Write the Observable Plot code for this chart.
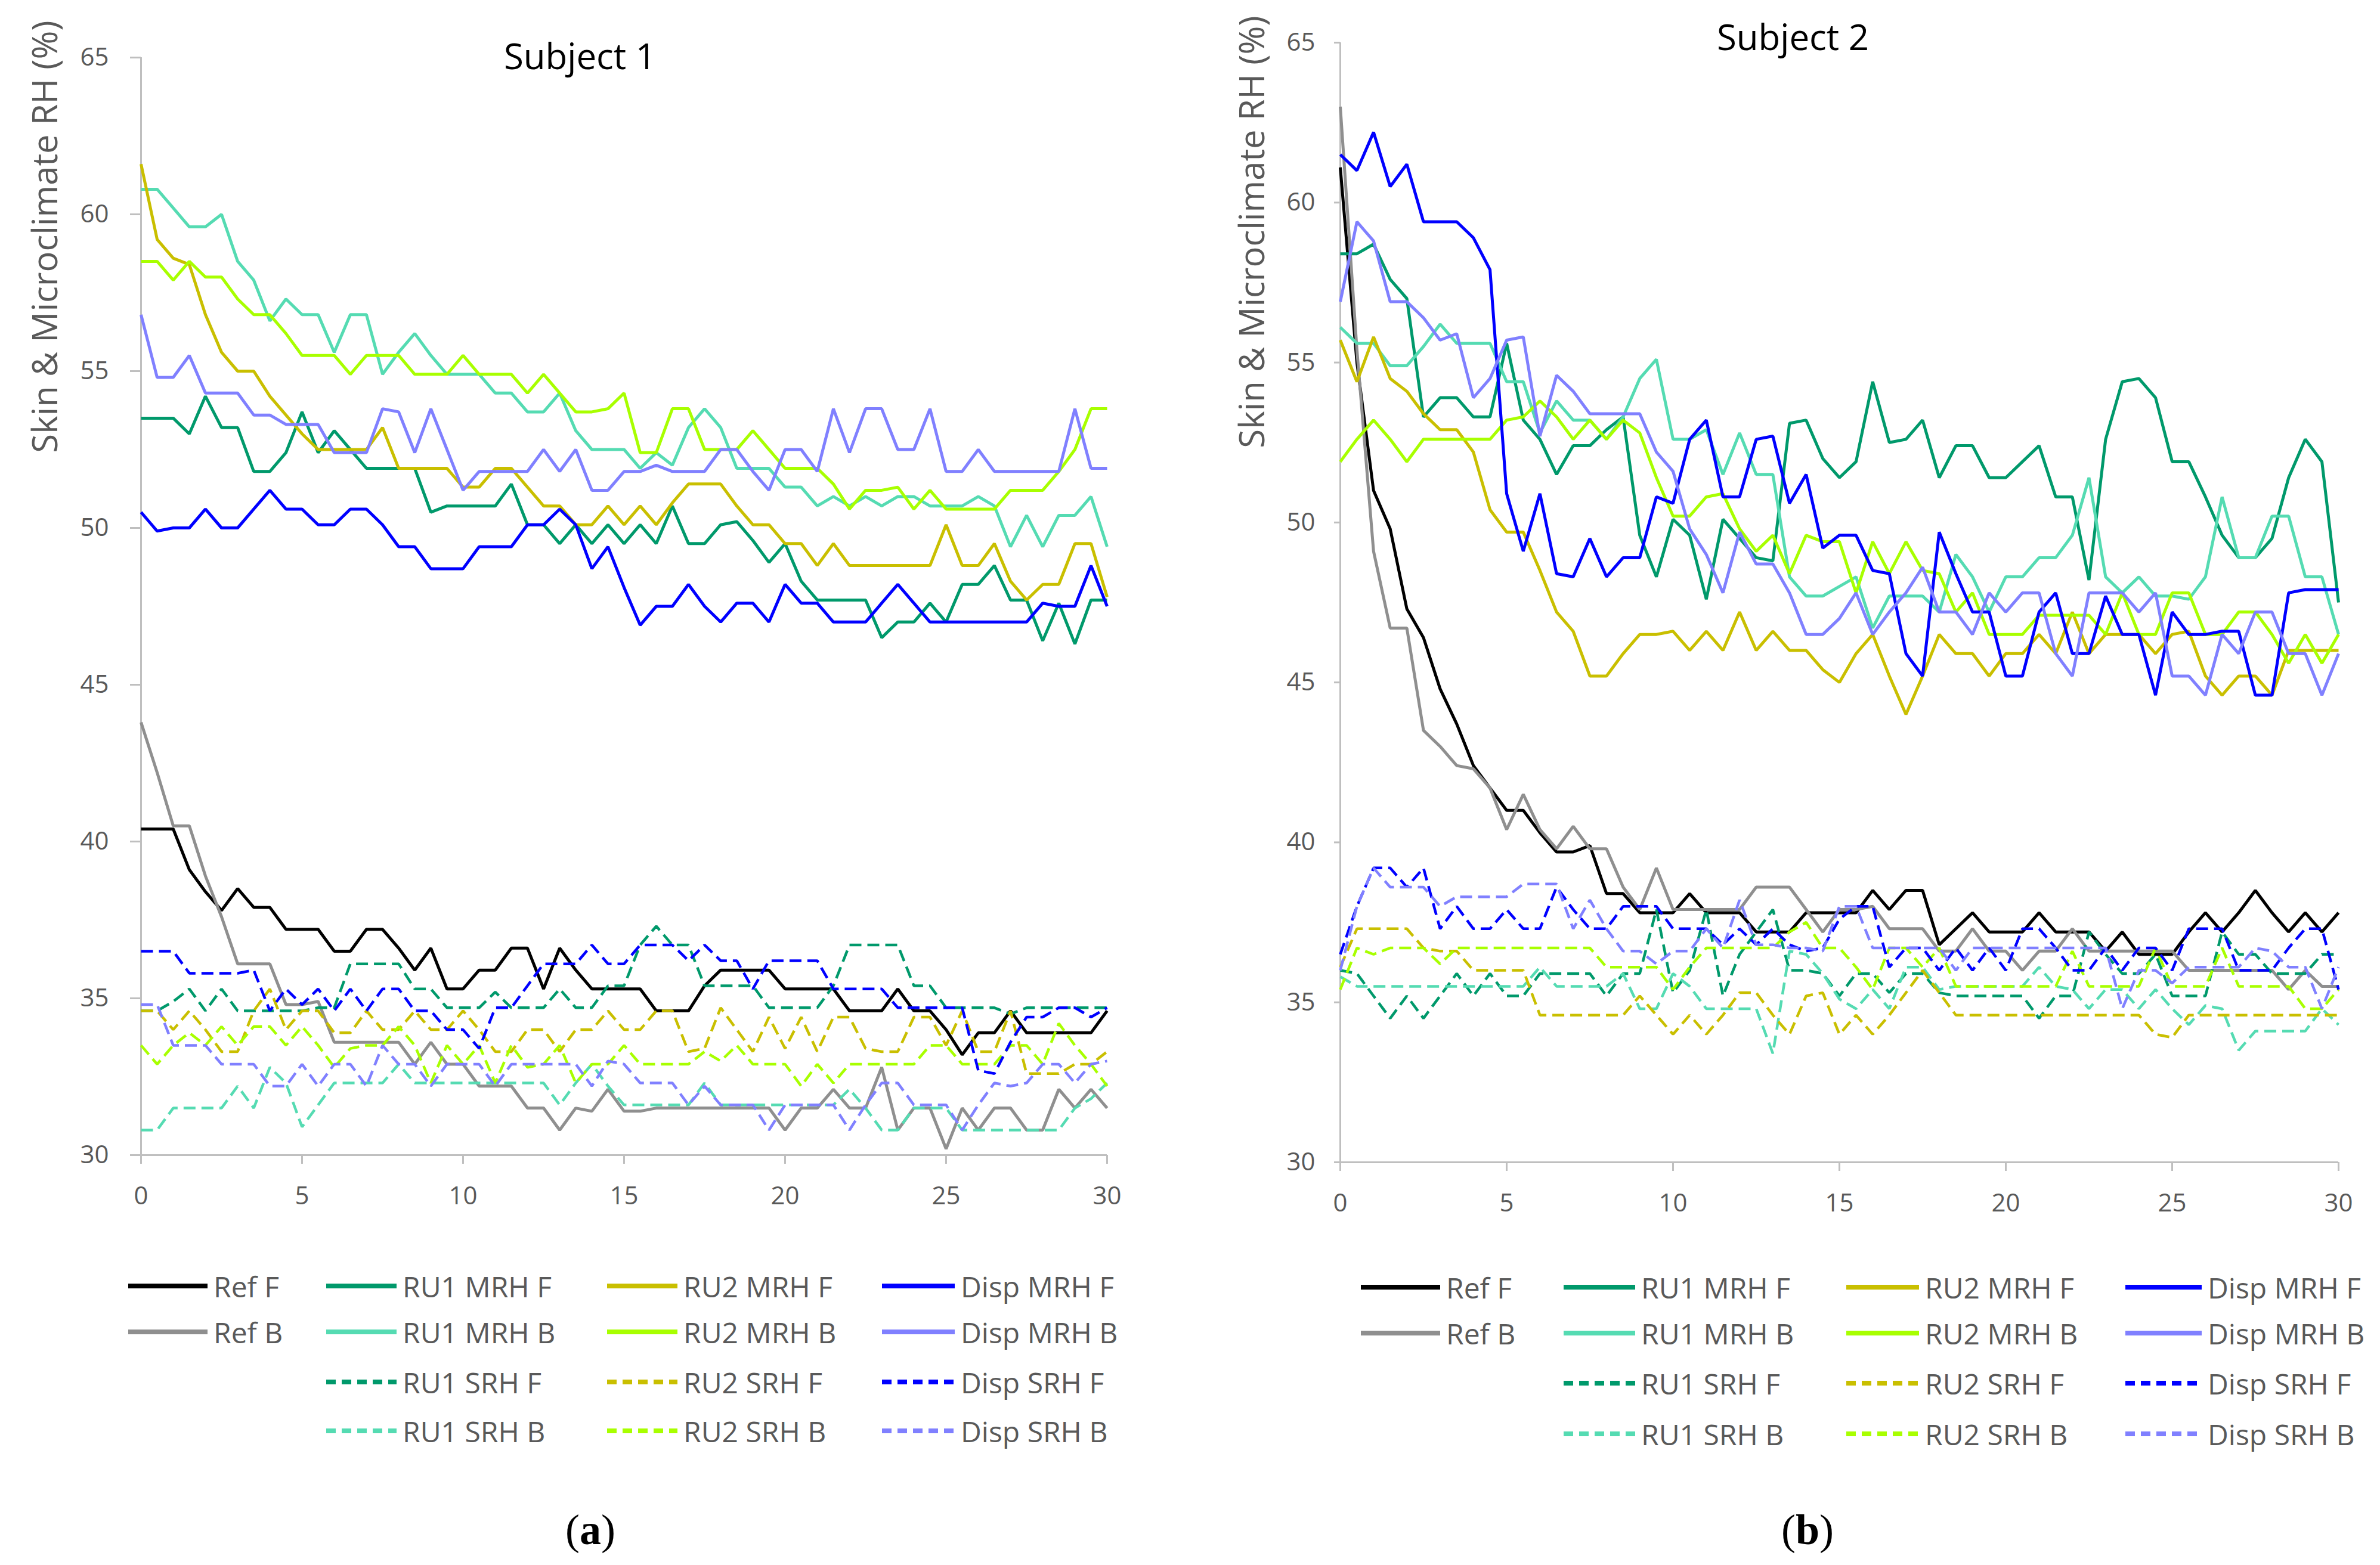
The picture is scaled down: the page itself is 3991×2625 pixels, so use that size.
<!DOCTYPE html>
<html><head><meta charset="utf-8">
<script src="https://cdn.jsdelivr.net/npm/d3@7"></script>
<script src="https://cdn.jsdelivr.net/npm/@observablehq/plot@0.6"></script>
<style>
html,body{margin:0;padding:0;background:#fff;}
#page{position:relative;width:3991px;height:2625px;overflow:hidden;background:#fff;}
.panel{position:absolute;top:0;}
.item{position:absolute;display:flex;align-items:center;white-space:nowrap;height:60px;
  font-family:"Open Sans",sans-serif;font-size:48px;color:#595959;}
.item svg{display:block;margin-right:10px;}
.cap{position:absolute;font-family:"Liberation Serif","DejaVu Serif",serif;font-size:72px;color:#000;transform:translate(-50%,-50%);}
</style></head><body><div id="page"></div><script>
// ---------- data ----------
const time = [0,0.5,1,1.5,2,2.5,3,3.5,4,4.5,5,5.5,6,6.5,7,7.5,8,8.5,9,9.5,10,10.5,11,11.5,12,12.5,13,13.5,14,14.5,15,15.5,16,16.5,17,17.5,18,18.5,19,19.5,20,20.5,21,21.5,22,22.5,23,23.5,24,24.5,25,25.5,26,26.5,27,27.5,28,28.5,29,29.5,30];
const xTicks = [0,5,10,15,20,25,30];
const yTicks = [30,35,40,45,50,55,60,65];
const seriesNames = ["Ref F","Ref B","RU1 MRH F","RU1 MRH B","RU1 SRH F","RU1 SRH B","RU2 MRH F","RU2 MRH B","RU2 SRH F","RU2 SRH B","Disp MRH F","Disp MRH B","Disp SRH F","Disp SRH B"];
const seriesColors = ["#000000","#8f8f8f","#00996b","#55dbb2","#00996b","#55dbb2","#c9bf00","#a8ff00","#c9bf00","#a8ff00","#0000ff","#8080ff","#0000ff","#8080ff"];
const seriesDashed = [false,false,false,false,true,true,false,false,true,true,false,false,true,true];
const panelTitles = ["Subject 1","Subject 2"];
const panelCaptions = ["a","b"];
const yLabel = "Skin & Microclimate RH (%)";

// Subject 1
const s1RefF = [40.4,40.4,40.4,39.1,38.4,37.8,38.5,37.9,37.9,37.2,37.2,37.2,36.5,36.5,37.2,37.2,36.6,35.9,36.6,35.3,35.3,35.9,35.9,36.6,36.6,35.3,36.6,35.9,35.3,35.3,35.3,35.3,34.6,34.6,34.6,35.4,35.9,35.9,35.9,35.9,35.3,35.3,35.3,35.3,34.6,34.6,34.6,35.3,34.6,34.6,34.0,33.2,33.9,33.9,34.6,33.9,33.9,33.9,33.9,33.9,34.6];
const s1RefB = [43.8,42.2,40.5,40.5,38.9,37.6,36.1,36.1,36.1,34.8,34.8,34.9,33.6,33.6,33.6,33.6,33.6,32.9,33.6,32.9,32.9,32.2,32.2,32.2,31.5,31.5,30.8,31.5,31.4,32.1,31.4,31.4,31.5,31.5,31.5,31.5,31.5,31.5,31.5,31.5,30.8,31.5,31.5,32.1,31.5,31.5,32.8,30.8,31.5,31.5,30.2,31.5,30.8,31.5,31.5,30.8,30.8,32.1,31.5,32.1,31.5];
const s1Ru1MrhF = [53.5,53.5,53.5,53.0,54.2,53.2,53.2,51.8,51.8,52.4,53.7,52.4,53.1,52.5,51.9,51.9,51.9,51.9,50.5,50.7,50.7,50.7,50.7,51.4,50.1,50.1,49.5,50.1,49.5,50.1,49.5,50.1,49.5,50.7,49.5,49.5,50.1,50.2,49.6,48.9,49.5,48.3,47.7,47.7,47.7,47.7,46.5,47.0,47.0,47.6,47.0,48.2,48.2,48.8,47.7,47.7,46.4,47.6,46.3,47.7,47.7];
const s1Ru1MrhB = [60.8,60.8,60.2,59.6,59.6,60.0,58.5,57.9,56.6,57.3,56.8,56.8,55.6,56.8,56.8,54.9,55.6,56.2,55.5,54.9,54.9,54.9,54.3,54.3,53.7,53.7,54.3,53.1,52.5,52.5,52.5,51.9,52.4,52.0,53.2,53.8,53.2,51.9,51.9,51.9,51.3,51.3,50.7,51.0,50.7,51.0,50.7,51.0,51.0,50.7,50.7,50.7,51.0,50.7,49.4,50.4,49.4,50.4,50.4,51.0,49.4];
const s1Ru1SrhF = [34.6,34.6,34.9,35.3,34.6,35.3,34.6,34.6,34.6,34.6,34.6,34.7,34.7,36.1,36.1,36.1,36.1,35.3,35.3,34.7,34.7,34.7,35.2,34.7,34.7,34.7,35.3,34.7,34.7,35.4,35.4,36.7,37.3,36.7,36.7,35.4,35.4,35.4,35.4,34.7,34.7,34.7,34.7,35.4,36.7,36.7,36.7,36.7,35.4,35.4,34.7,34.7,34.7,34.7,34.5,34.7,34.7,34.7,34.7,34.7,34.7];
const s1Ru1SrhB = [30.8,30.8,31.5,31.5,31.5,31.5,32.2,31.5,32.8,32.3,30.9,31.6,32.3,32.3,32.3,32.3,32.9,32.3,32.3,32.3,32.3,32.3,32.3,32.3,32.3,32.3,31.6,32.3,32.9,32.2,31.6,31.6,31.6,31.6,31.6,32.3,31.6,31.6,31.6,31.6,31.6,31.6,31.6,31.6,32.1,31.5,30.8,30.8,31.5,31.5,31.5,30.8,30.8,30.8,30.8,30.8,30.8,30.8,31.5,31.8,32.3];
const s1Ru2MrhF = [61.6,59.2,58.6,58.4,56.8,55.6,55.0,55.0,54.2,53.6,53.0,52.5,52.5,52.5,52.5,53.2,51.9,51.9,51.9,51.9,51.3,51.3,51.9,51.9,51.3,50.7,50.7,50.1,50.1,50.7,50.1,50.7,50.1,50.8,51.4,51.4,51.4,50.7,50.1,50.1,49.5,49.5,48.8,49.5,48.8,48.8,48.8,48.8,48.8,48.8,50.1,48.8,48.8,49.5,48.3,47.7,48.2,48.2,49.5,49.5,47.8];
const s1Ru2MrhB = [58.5,58.5,57.9,58.5,58.0,58.0,57.3,56.8,56.8,56.2,55.5,55.5,55.5,54.9,55.5,55.5,55.5,54.9,54.9,54.9,55.5,54.9,54.9,54.9,54.3,54.9,54.3,53.7,53.7,53.8,54.3,52.4,52.4,53.8,53.8,52.5,52.5,52.5,53.1,52.5,51.9,51.9,51.9,51.4,50.6,51.2,51.2,51.3,50.6,51.2,50.6,50.6,50.6,50.6,51.2,51.2,51.2,51.8,52.5,53.8,53.8];
const s1Ru2SrhF = [34.6,34.6,34.0,34.6,34.0,33.3,33.3,34.6,35.3,34.0,34.6,34.6,33.9,33.9,34.6,34.0,34.0,34.6,34.0,34.0,34.6,34.0,33.3,33.3,34.0,34.0,33.3,34.0,34.0,34.6,34.0,34.0,34.6,34.6,33.3,33.4,34.7,34.0,33.3,34.4,33.4,34.4,33.3,34.4,34.4,33.4,33.3,33.3,34.4,34.4,33.5,34.6,33.3,33.3,34.6,32.6,32.6,32.6,32.9,32.9,33.3];
const s1Ru2SrhB = [33.5,32.9,33.5,33.9,33.5,34.1,33.5,34.1,34.1,33.5,34.1,33.5,32.8,33.4,33.5,33.5,34.1,33.5,32.3,33.5,32.9,33.5,32.3,33.5,32.8,32.9,33.5,32.3,32.9,32.9,33.5,32.9,32.9,32.9,32.9,33.3,33.0,33.5,32.9,32.9,32.9,32.2,32.9,32.3,32.9,32.9,32.9,32.9,32.9,33.5,33.5,32.9,32.9,32.9,33.5,33.5,32.9,34.2,33.5,32.9,32.2];
const s1DispMrhF = [50.5,49.9,50.0,50.0,50.6,50.0,50.0,50.6,51.2,50.6,50.6,50.1,50.1,50.6,50.6,50.1,49.4,49.4,48.7,48.7,48.7,49.4,49.4,49.4,50.1,50.1,50.6,50.1,48.7,49.4,48.1,46.9,47.5,47.5,48.2,47.5,47.0,47.6,47.6,47.0,48.2,47.6,47.6,47.0,47.0,47.0,47.6,48.2,47.6,47.0,47.0,47.0,47.0,47.0,47.0,47.0,47.6,47.5,47.5,48.8,47.5];
const s1DispMrhB = [56.8,54.8,54.8,55.5,54.3,54.3,54.3,53.6,53.6,53.3,53.3,53.3,52.4,52.4,52.4,53.8,53.7,52.4,53.8,52.5,51.2,51.8,51.8,51.8,51.8,52.5,51.8,52.5,51.2,51.2,51.8,51.8,52.0,51.8,51.8,51.8,52.5,52.5,51.8,51.2,52.5,52.5,51.8,53.8,52.4,53.8,53.8,52.5,52.5,53.8,51.8,51.8,52.5,51.8,51.8,51.8,51.8,51.8,53.8,51.9,51.9];
const s1DispSrhF = [36.5,36.5,36.5,35.8,35.8,35.8,35.8,35.9,34.6,35.3,34.8,35.3,34.6,35.3,34.6,35.3,35.3,34.6,34.6,34.0,34.0,33.4,34.7,34.7,35.4,36.1,36.1,36.1,36.7,36.1,36.1,36.7,36.7,36.7,36.2,36.7,36.2,36.2,35.3,36.2,36.2,36.2,36.2,35.3,35.3,35.3,35.3,34.7,34.7,34.7,34.7,34.7,32.7,32.6,33.6,34.4,34.4,34.7,34.7,34.4,34.7];
const s1DispSrhB = [34.8,34.8,33.5,33.5,33.5,32.9,32.9,32.9,32.2,32.2,32.9,32.2,32.9,32.9,32.2,33.5,32.9,32.9,32.2,32.9,32.9,32.9,32.2,32.9,32.9,32.9,32.9,32.9,32.2,33.0,32.9,32.3,32.3,32.3,31.6,32.2,31.6,31.6,31.6,30.8,31.6,31.6,31.6,31.6,30.8,31.6,32.3,32.3,31.6,31.6,31.6,30.8,31.6,32.3,32.2,32.3,32.9,32.9,32.3,32.9,33.0];

// Subject 2
const s2RefF = [61.1,55.0,51.0,49.8,47.3,46.4,44.8,43.7,42.4,41.7,41.0,41.0,40.3,39.7,39.7,39.9,38.4,38.4,37.8,37.8,37.8,38.4,37.8,37.8,37.8,37.2,37.2,37.2,37.8,37.8,37.8,37.8,38.5,37.9,38.5,38.5,36.8,37.3,37.8,37.2,37.2,37.2,37.8,37.2,37.2,37.2,36.6,37.2,36.5,36.5,36.5,37.2,37.8,37.2,37.8,38.5,37.8,37.2,37.8,37.2,37.8];
const s2RefB = [63.0,55.4,49.1,46.7,46.7,43.5,43.0,42.4,42.3,41.7,40.4,41.5,40.4,39.8,40.5,39.8,39.8,38.6,37.9,39.2,37.9,37.9,37.9,37.9,37.9,38.6,38.6,38.6,37.9,37.2,37.9,37.9,38.0,37.3,37.3,37.3,36.6,36.6,37.3,36.6,36.6,36.0,36.6,36.6,37.3,36.6,36.6,36.6,36.6,36.6,36.6,36.0,36.0,36.0,36.0,36.0,36.0,35.4,36.0,35.5,35.5];
const s2Ru1MrhF = [58.4,58.4,58.7,57.6,57.0,53.3,53.9,53.9,53.3,53.3,55.6,53.2,52.6,51.5,52.4,52.4,52.9,53.3,49.6,48.3,50.1,49.6,47.6,50.1,49.5,48.9,48.8,53.1,53.2,52.0,51.4,51.9,54.4,52.5,52.6,53.2,51.4,52.4,52.4,51.4,51.4,51.9,52.4,50.8,50.8,48.2,52.6,54.4,54.5,53.9,51.9,51.9,50.8,49.6,48.9,48.9,49.5,51.4,52.6,51.9,47.5];
const s2Ru1MrhB = [56.1,55.6,55.6,54.9,54.9,55.5,56.2,55.6,55.6,55.6,54.4,54.4,52.8,53.8,53.2,53.2,52.6,53.3,54.5,55.1,52.6,52.6,52.9,51.5,52.8,51.5,51.5,48.3,47.7,47.7,48.0,48.3,46.7,47.7,47.7,47.7,47.2,49.0,48.3,47.2,48.3,48.3,48.9,48.9,49.6,51.4,48.3,47.8,48.3,47.7,47.7,47.6,48.3,50.8,48.9,48.9,50.2,50.2,48.3,48.3,46.5];
const s2Ru1SrhF = [36.0,35.9,35.2,34.5,35.2,34.5,35.2,35.9,35.2,35.9,35.2,35.2,35.9,35.9,35.9,35.9,35.2,35.9,35.9,37.9,35.3,36.0,37.9,35.2,36.5,37.2,37.9,36.0,36.0,35.9,35.2,35.9,35.9,35.3,35.9,35.9,35.3,35.2,35.2,35.2,35.2,35.2,34.5,35.2,35.2,37.2,36.5,35.9,35.9,36.5,35.2,35.2,35.2,37.2,36.5,36.5,35.9,35.9,35.9,36.5,36.5];
const s2Ru1SrhB = [35.8,35.5,35.5,35.5,35.5,35.5,35.5,35.5,35.5,35.5,35.5,35.5,36.1,35.5,35.5,35.5,35.5,35.9,34.8,34.8,35.9,35.5,34.8,34.8,34.8,34.8,33.4,36.6,36.5,35.9,35.1,34.8,35.4,34.8,36.1,36.1,35.4,35.5,35.5,35.5,35.5,35.5,36.1,35.5,35.4,34.8,35.4,35.4,34.8,35.4,34.8,34.3,34.9,34.8,33.5,34.1,34.1,34.1,34.1,34.8,34.3];
const s2Ru2MrhF = [55.7,54.4,55.8,54.5,54.1,53.4,52.9,52.9,52.2,50.4,49.7,49.7,48.5,47.2,46.6,45.2,45.2,45.9,46.5,46.5,46.6,46.0,46.6,46.0,47.2,46.0,46.6,46.0,46.0,45.4,45.0,45.9,46.5,45.2,44.0,45.2,46.5,45.9,45.9,45.2,45.9,45.9,46.5,45.9,47.2,45.9,46.5,46.5,46.5,45.9,46.5,46.6,45.2,44.6,45.2,45.2,44.6,46.0,46.0,46.0,46.0];
const s2Ru2MrhB = [51.9,52.6,53.2,52.6,51.9,52.6,52.6,52.6,52.6,52.6,53.2,53.3,53.8,53.3,52.6,53.2,52.6,53.2,52.8,51.4,50.2,50.2,50.8,50.9,49.8,49.1,49.6,48.4,49.6,49.4,49.4,47.8,49.4,48.4,49.4,48.5,48.4,47.2,47.8,46.5,46.5,46.5,47.1,47.1,47.1,47.1,46.5,47.8,46.5,46.5,47.8,47.8,46.5,46.5,47.2,47.2,46.5,45.6,46.5,45.6,46.5];
const s2Ru2SrhF = [36.1,37.3,37.3,37.3,37.3,36.7,36.6,36.6,36.0,36.0,36.0,36.0,34.6,34.6,34.6,34.6,34.6,34.6,35.2,34.6,34.0,34.6,34.0,34.6,35.3,35.3,34.6,34.0,35.2,35.3,34.0,34.6,34.0,34.6,35.3,36.0,35.3,34.6,34.6,34.6,34.6,34.6,34.6,34.6,34.6,34.6,34.6,34.6,34.6,34.0,33.9,34.6,34.6,34.6,34.6,34.6,34.6,34.6,34.6,34.6,34.6];
const s2Ru2SrhB = [35.4,36.7,36.5,36.7,36.7,36.7,36.2,36.7,36.7,36.7,36.7,36.7,36.7,36.7,36.7,36.7,36.1,36.1,36.1,36.1,35.4,36.1,36.7,36.7,36.7,36.7,36.7,37.2,37.5,36.7,36.7,36.1,35.4,36.7,36.7,36.1,36.7,35.5,35.5,35.5,35.5,35.5,35.5,35.5,36.6,35.5,35.5,35.5,35.5,36.7,35.5,35.5,35.5,36.7,35.5,35.5,35.5,35.5,34.8,34.8,35.4];
const s2DispMrhF = [61.5,61.0,62.2,60.5,61.2,59.4,59.4,59.4,58.9,57.9,50.9,49.1,50.9,48.4,48.3,49.5,48.3,48.9,48.9,50.8,50.6,52.6,53.2,50.8,50.8,52.6,52.7,50.6,51.5,49.2,49.6,49.6,48.5,48.4,45.9,45.2,49.7,48.4,47.2,47.2,45.2,45.2,47.2,47.8,45.9,45.9,47.7,46.5,46.5,44.6,47.2,46.5,46.5,46.6,46.6,44.6,44.6,47.8,47.9,47.9,47.9];
const s2DispMrhB = [56.9,59.4,58.8,56.9,56.9,56.4,55.7,55.9,53.9,54.5,55.7,55.8,52.7,54.6,54.1,53.4,53.4,53.4,53.4,52.2,51.6,49.8,49.0,47.8,49.7,48.7,48.7,47.8,46.5,46.5,47.0,47.8,46.5,47.2,47.8,48.6,47.2,47.2,46.5,47.8,47.2,47.8,47.8,45.9,45.2,47.8,47.8,47.8,47.2,47.8,45.2,45.2,44.6,46.5,45.9,47.2,47.2,45.9,45.9,44.6,45.9];
const s2DispSrhF = [36.5,38.0,39.2,39.2,38.6,39.2,37.3,38.0,37.3,37.3,37.9,37.3,37.3,38.6,37.9,37.3,37.3,38.0,38.0,38.0,37.3,37.3,37.3,36.8,37.3,36.8,37.3,36.8,36.6,36.7,37.6,38.0,38.0,36.1,36.7,36.7,36.0,36.7,36.0,36.7,36.0,37.3,37.3,36.7,36.0,36.0,36.7,36.0,36.7,36.7,36.0,37.3,37.3,37.3,36.0,36.0,36.0,36.7,37.3,37.3,35.4];
const s2DispSrhB = [36.0,38.0,39.2,38.6,38.6,38.6,38.0,38.3,38.3,38.3,38.3,38.7,38.7,38.7,37.3,38.2,37.3,36.6,36.6,36.2,36.6,36.6,37.3,36.7,38.2,36.8,36.8,36.7,36.7,36.6,38.0,38.0,36.7,36.7,36.7,36.7,36.7,36.0,36.7,36.7,36.7,36.7,36.7,36.7,36.7,36.7,36.7,34.8,36.0,36.0,35.6,36.1,36.1,36.1,36.1,36.7,36.6,36.1,36.1,34.8,36.1];

const subject1 = [s1RefF,s1RefB,s1Ru1MrhF,s1Ru1MrhB,s1Ru1SrhF,s1Ru1SrhB,s1Ru2MrhF,s1Ru2MrhB,s1Ru2SrhF,s1Ru2SrhB,s1DispMrhF,s1DispMrhB,s1DispSrhF,s1DispSrhB];
const subject2 = [s2RefF,s2RefB,s2Ru1MrhF,s2Ru1MrhB,s2Ru1SrhF,s2Ru1SrhB,s2Ru2MrhF,s2Ru2MrhB,s2Ru2SrhF,s2Ru2SrhB,s2DispMrhF,s2DispMrhB,s2DispSrhF,s2DispSrhB];

// ---------- layout ----------
const layouts = [
  {left:0, width:1896, height:2047, mt:96, ml:236, mr:40, mb:110, tick:18, pad:36, titleDx:-74, titleDy:0, ylDx:-182, ylDy:-62,
   cols:[215,547,1018,1479], sw:[133,118,118,122], rows:[2157,2234,2318,2400], cap:[990,2566]},
  {left:2011, width:1950, height:2059, mt:71, ml:236, mr:40, mb:110, tick:10, pad:32, titleDx:-78, titleDy:-7, ylDx:-169, ylDy:-45,
   cols:[2282,2622,3096,3564], sw:[133,120,122,128], rows:[2159,2236,2320,2405], cap:[3031,2566]}
];
const legendGrid = [[0,1],[2,3,4,5],[6,7,8,9],[10,11,12,13]];

const page = document.getElementById("page");
const axisGray = "#bfbfbf", textGray = "#595959";

[subject1, subject2].forEach((data, p) => {
  const L = layouts[p];
  const marks = [
    Plot.ruleY([30], {stroke: axisGray, strokeWidth: 3}),
    Plot.ruleX([0], {stroke: axisGray, strokeWidth: 3}),
    Plot.axisX({ticks: xTicks, tickSize: 15, tickPadding: 38, fontSize: 42, stroke: axisGray, strokeWidth: 3, fill: textGray, label: null, tickFormat: d => String(d)}),
    Plot.axisY({ticks: yTicks, tickSize: L.tick, tickPadding: L.pad, fontSize: 42, stroke: axisGray, strokeWidth: 3, fill: textGray, label: null, tickFormat: d => String(d)}),
    ...data.map((vals, k) => Plot.line(vals, {
      x: time, y: vals,
      stroke: seriesColors[k],
      strokeWidth: seriesDashed[k] ? 4.5 : 5,
      strokeDasharray: seriesDashed[k] ? "20,10" : null,
      strokeLinejoin: "miter", strokeLinecap: "butt"
    })),
    Plot.text([panelTitles[p]], {text: d => d, frameAnchor: "top", dx: L.titleDx, dy: L.titleDy, fontSize: 60, fill: "#000", lineAnchor: "middle"}),
    Plot.text([yLabel], {text: d => d, frameAnchor: "top-left", rotate: -90, textAnchor: "end", dx: L.ylDx, dy: L.ylDy, fontSize: 58, fill: textGray})
  ];
  const chart = Plot.plot({
    width: L.width, height: L.height,
    marginTop: L.mt, marginLeft: L.ml, marginRight: L.mr, marginBottom: L.mb,
    x: {domain: [0, 30]},
    y: {domain: [30, 65]},
    style: {fontFamily: "'Open Sans', sans-serif", background: "#fff", overflow: "visible"},
    marks
  });
  const wrap = document.createElement("div");
  wrap.className = "panel";
  wrap.style.left = L.left + "px";
  wrap.style.width = L.width + "px";
  wrap.appendChild(chart);
  page.appendChild(wrap);

  // legend
  legendGrid.forEach((col, c) => {
    col.forEach((k, r) => {
      const item = document.createElement("div");
      item.className = "item";
      item.style.left = L.cols[c] + "px";
      item.style.top = (L.rows[r] - 30) + "px";
      const w = L.sw[c];
      const dash = seriesDashed[k] ? ' stroke-dasharray="16,10"' : '';
      item.innerHTML = `<svg width="${w}" height="60"><line x1="0" y1="30" x2="${w}" y2="30" stroke="${seriesColors[k]}" stroke-width="8"${dash}/></svg><span>${seriesNames[k]}</span>`;
      page.appendChild(item);
    });
  });

  const cap = document.createElement("div");
  cap.className = "cap";
  cap.style.left = L.cap[0] + "px";
  cap.style.top = L.cap[1] + "px";
  cap.innerHTML = `(<b>${panelCaptions[p]}</b>)`;
  page.appendChild(cap);
});
</script></body></html>
